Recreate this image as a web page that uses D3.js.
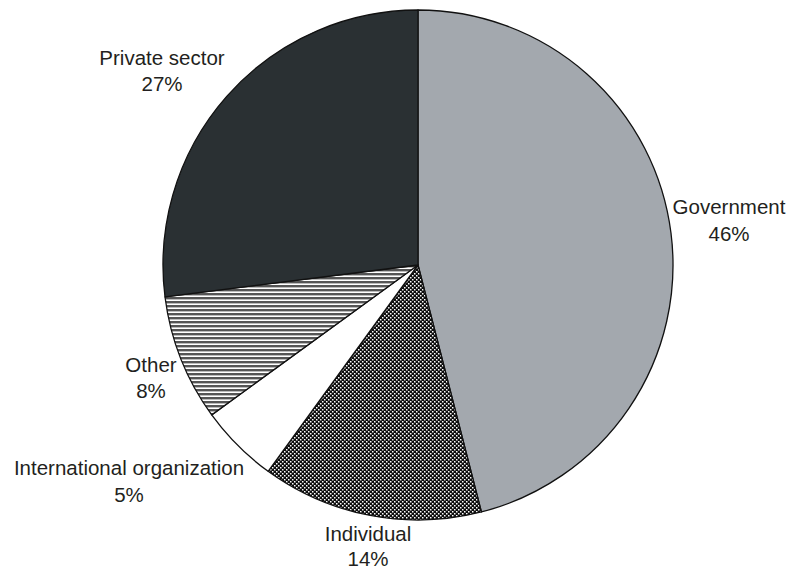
<!DOCTYPE html>
<html>
<head>
<meta charset="utf-8">
<script src="https://cdn.jsdelivr.net/npm/d3@7"></script>
<style>
  html, body { margin: 0; padding: 0; background: #fff; }
  svg text { font-family: "Liberation Sans", Arial, Helvetica, sans-serif; fill: #231f20; }
</style>
</head>
<body>
<svg id="chart" width="790" height="571"></svg>
<script>
// Funding sources, clockwise from 12 o'clock
const categories = ["Government", "Individual", "International organization", "Other", "Private sector"];
const shares = [46, 14, 5, 8, 27];
const fills = ["#a3a8ae", "url(#checker)", "#ffffff", "url(#stripes)", "#2a3033"];
// label anchor points [x, first baseline, line gap]
const labelPos = [[729, 214, 26.5], [368, 541, 24.5], [129, 475, 26.5], [151, 372, 26], [162, 65, 26]];

const svg = d3.select("#chart");
const defs = svg.append("defs");

// Dense black/white checker fill
const checker = defs.append("pattern")
  .attr("id", "checker").attr("patternUnits", "userSpaceOnUse")
  .attr("width", 4).attr("height", 4);
checker.append("rect").attr("width", 4).attr("height", 4).attr("fill", "#0d0d0d");
checker.append("rect").attr("x", 0).attr("y", 0).attr("width", 1.5).attr("height", 1.5).attr("fill", "#fff");
checker.append("rect").attr("x", 2).attr("y", 2).attr("width", 1.5).attr("height", 1.5).attr("fill", "#fff");

// Horizontal gray stripes
const stripes = defs.append("pattern")
  .attr("id", "stripes").attr("patternUnits", "userSpaceOnUse")
  .attr("width", 8).attr("height", 4);
stripes.append("rect").attr("width", 8).attr("height", 4).attr("fill", "#fff");
stripes.append("rect").attr("y", 0).attr("width", 8).attr("height", 2.4).attr("fill", "#555");

const cx = 418, cy = 265, radius = 255;

const pie = d3.pie().sort(null).value(d => d)(shares);
const arc = d3.arc().innerRadius(0).outerRadius(radius);

const g = svg.append("g").attr("transform", `translate(${cx},${cy})`);
g.selectAll("path.slice")
  .data(pie)
  .join("path")
  .attr("class", "slice")
  .attr("d", arc)
  .attr("fill", (d, i) => fills[i])
  .attr("stroke", "#111")
  .attr("stroke-width", 1.3)
  .attr("stroke-linejoin", "round");

const labels = svg.append("g");
categories.forEach((name, i) => {
  const [x, y, gap] = labelPos[i];
  const t = labels.append("text")
    .attr("x", x).attr("y", y)
    .attr("text-anchor", "middle")
    .attr("font-size", 20.5);
  t.append("tspan").attr("x", x).text(name);
  t.append("tspan").attr("x", x).attr("dy", gap).text(shares[i] + "%");
});
</script>
</body>
</html>
